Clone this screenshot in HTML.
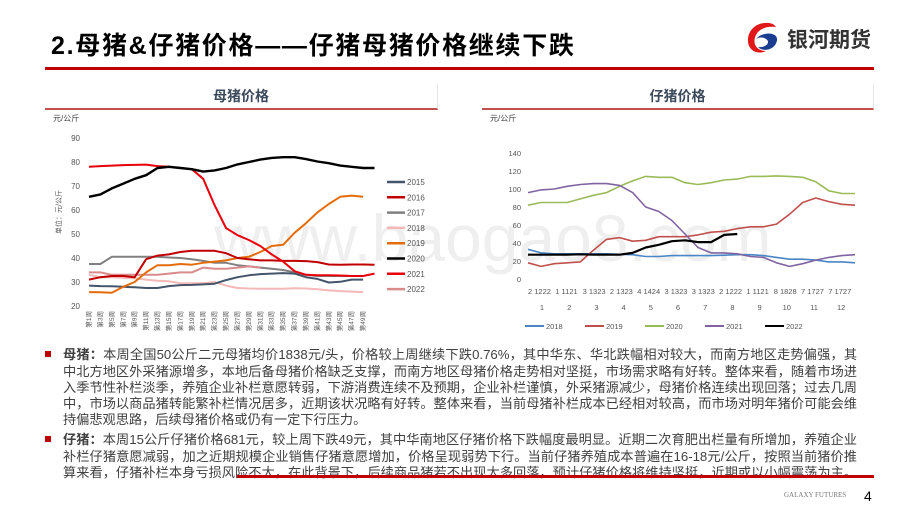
<!DOCTYPE html>
<html><head><meta charset="utf-8">
<style>
body{margin:0;width:920px;height:518px;background:#fff;position:relative;overflow:hidden;font-family:"Liberation Sans","Noto Sans CJK SC",sans-serif}
.abs{position:absolute}
.ln{position:absolute;left:63px;width:794px;white-space:nowrap;font-size:13.2px;color:#404040;text-align:justify;text-align-last:justify;line-height:16px}
</style></head><body>
<div class="abs" style="left:51px;top:26px;font-size:25px;font-weight:bold;color:#000;letter-spacing:1.7px;white-space:nowrap">2.母猪&amp;仔猪价格——仔猪母猪价格继续下跌</div>
<div class="abs" style="left:45px;top:67px;width:829px;height:3px;background:#c00000"></div>
<svg class="abs" style="left:746px;top:22px" width="36" height="32" viewBox="0 0 36 32">
<path d="M22 1 C10 0 1 9 2 20 C3 29 12 33 20 29 C10 29 6 21 10 13 C13 7 20 4 30 5 C28 2 25 1 22 1Z" fill="#e01818"/>
<path d="M10 17 C17 9 32 10 31 18 C30 27 18 31 12 25 C20 26 25 20 20 17 C17 15 13 15 10 17Z" fill="#1a3d8f"/>
</svg>
<div class="abs" style="left:787px;top:24px;font-size:21px;font-weight:bold;color:#333;white-space:nowrap">银河期货</div>

<div class="abs" style="left:214px;top:200px;font-size:66px;color:#000;opacity:0.06;white-space:nowrap">www.baogao8.com</div>

<!-- left chart -->
<div class="abs" style="left:45px;top:84px;width:392px;height:24px;border-right:1px solid #e6e6e6;border-bottom:2px solid #c0504d;text-align:center;font-size:14px;font-weight:bold;color:#3b4a5c;line-height:24px">母猪价格</div>
<svg class="abs" id="c1" style="left:0;top:0" width="460" height="345"></svg>

<!-- right chart -->
<div class="abs" style="left:482px;top:84px;width:391px;height:24px;border-right:1px solid #e6e6e6;border-bottom:2px solid #c0504d;text-align:center;font-size:14px;font-weight:bold;color:#3b4a5c;line-height:24px">仔猪价格</div>
<svg class="abs" id="c2" style="left:460px;top:0" width="460" height="345"></svg>

<!-- text -->
<div class="abs" style="left:45px;top:351px;width:6px;height:6px;background:#c00000"></div>
<div class="ln" style="top:347px"><b>母猪：</b>本周全国50公斤二元母猪均价1838元/头，价格较上周继续下跌0.76%，其中华东、华北跌幅相对较大，而南方地区走势偏强，其</div>
<div class="ln" style="top:364px">中北方地区外采猪源增多，本地后备母猪价格缺乏支撑，而南方地区母猪价格走势相对坚挺，市场需求略有好转。整体来看，随着市场进</div>
<div class="ln" style="top:380px">入季节性补栏淡季，养殖企业补栏意愿转弱，下游消费连续不及预期，企业补栏谨慎，外采猪源减少，母猪价格连续出现回落；过去几周</div>
<div class="ln" style="top:396px">中，市场以商品猪转能繁补栏情况居多，近期该状况略有好转。整体来看，当前母猪补栏成本已经相对较高，而市场对明年猪价可能会维</div>
<div class="ln" style="top:412px;text-align-last:left">持偏悲观思路，后续母猪价格或仍有一定下行压力。</div>
<div class="abs" style="left:45px;top:436px;width:6px;height:6px;background:#c00000"></div>
<div class="ln" style="top:432px"><b>仔猪：</b>本周15公斤仔猪价格681元，较上周下跌49元，其中华南地区仔猪价格下跌幅度最明显。近期二次育肥出栏量有所增加，养殖企业</div>
<div class="ln" style="top:449px">补栏仔猪意愿减弱，加之近期规模企业销售仔猪意愿增加，价格呈现弱势下行。当前仔猪养殖成本普遍在16-18元/公斤，按照当前猪价推</div>
<div class="ln" style="top:465px">算来看，仔猪补栏本身亏损风险不大，在此背景下，后续商品猪若不出现太多回落，预计仔猪价格将维持坚挺，近期或以小幅震荡为主。</div>
<div class="abs" style="left:237px;top:475px;width:637px;height:3px;background:#c00000"></div>
<div class="abs" style="left:784px;top:491px;font-family:'Liberation Serif',serif;font-size:7px;color:#777">GALAXY FUTURES</div>
<div class="abs" style="left:864px;top:488px;font-size:14px;color:#000">4</div>

<script>
const NS='http://www.w3.org/2000/svg';
function mk(svg,tag,attrs,txt){const e=document.createElementNS(NS,tag);for(const k in attrs)e.setAttribute(k,attrs[k]);if(txt!==undefined)e.textContent=txt;svg.appendChild(e);return e;}

// ---- Chart 1 data: sow price, weeks 1..51 step 2 ----
const sowWeeks=[1,3,5,7,9,11,13,15,17,19,21,23,25,27,29,31,33,35,37,39,41,43,45,47,49,51];
const sowYears=['2015','2016','2017','2018','2019','2020','2021','2022'];
const s2015=[28.5,28.3,28.2,28,27.8,27.5,27.5,28.3,28.7,28.8,29,29.3,30.8,32,32.8,33.3,33.5,33.7,33.5,32,31.3,29.8,30.1,31,31,null];
const s2016=[31,32,32.5,32.5,32,39.5,41,41.5,42.5,43,43,43,42,40,39.5,39,39,38.8,38.8,38.7,38.3,37.3,37.2,37.3,37.3,37.2];
const s2017=[37.5,37.5,40.5,40.5,40.5,40.5,40.5,40.2,40,39.5,38.8,38,38,37,36.5,36,35.5,35,34,33,32.5,32.5,32.5,32.5,32.5,null];
const s2018=[33,32,32,31.8,31.5,31,30.5,30.3,29.5,29.5,29.5,30,28.5,27.5,27.3,27.2,27.2,27.2,27.4,27.3,27,26.5,26.2,26,25.8,null];
const s2019=[25.8,25.7,25.5,28,30,34,37,37,37.5,37.2,38,38.5,39,40,40.5,42.5,45,45.5,50.5,54.5,59,62.5,65.5,66,65.5,null];
const s2020=[65.5,66.5,69,71,73,74.5,77.5,78,77.5,77,76,76.5,77.5,79,80,81,81.7,82,82,81.2,80.2,79.5,78.5,78,77.5,77.5];
const s2021=[78,78.3,78.5,78.7,78.8,78.9,78.3,78,77.5,77,73,62,52.5,49.5,47.5,45,41.5,38.5,34.5,33,32.8,32.8,32.7,32.5,32.5,33.5];
const s2022=[34,34,33,33,33,33,33,33.5,34,34,36,35.5,35.5,36,36.5,36,null,null,null,null,null,null,null,null,null,null];
const sowTicks=[20,30,40,50,60,70,80,90];
const sowXLabels=['第1周','第3周','第5周','第7周','第9周','第11周','第13周','第15周','第17周','第19周','第21周','第23周','第25周','第27周','第29周','第31周','第33周','第35周','第37周','第39周','第41周','第43周','第45周','第47周','第49周'];

// ---- Chart 2 data: piglet price, 26 points across the year ----
const pigYears=['2018','2019','2020','2021','2022'];
const p2018=[33,29,28,28,28,28,28,27.5,27,25,25,26,26,26,26,26.5,27,27,26,24,22,22,21,19,19,18];
const p2019=[18,14,17,18,19,32,44,46,42,43,47,47,47,49,52,53,56,58,58,61,72,85,90,86,83,82];
const p2020=[82,85,85,85,89,93,96,103,109,114,113,113,107,105,107,110,111,114,114,114.5,114,113,108,98,95,95];
const p2021=[96,99,100,103,105,106,106,104,96,80,75,65,50,35,29,29,28,25,24,18,14,17,21,24,26,27];
const p2022=[27,27,27,27,27.5,27,27,27,29,35,38,42,43,41,41,49,50];
const pigTicks=[0,20,40,60,80,100,120,140];
const pigDayLabels=['2 1222','1 1121','3 1323','2 1323','4 1424','3 1323','3 1323','2 1222','1 1121','8 1828','7 1727','7 1727'];
const pigMonths=['1','2','3','4','5','6','7','8','9','10','11','12'];

// ---- draw chart 1 ----
(function(){
const svg=document.getElementById('c1');
const y=v=>138+(90-v)*2.4;
const x=w=>89+(w-1)*5.71;
mk(svg,'text',{x:53,y:121,'font-size':8,fill:'#444',},'元/公斤');
const yt=mk(svg,'text',{x:0,y:0,'font-size':7,fill:'#555','text-anchor':'middle',transform:'translate(61,212) rotate(-90)'},'单位：元/公斤');


sowTicks.forEach(t=>{
 const e=mk(svg,'text',{x:80,y:y(t)+3,'font-size':8,fill:'#555','text-anchor':'end'},String(t));
 
 
});
sowXLabels.forEach((l,i)=>{
 const w=1+i*2;
 const e=mk(svg,'text',{x:0,y:0,'font-size':6.5,fill:'#555','text-anchor':'end',transform:`translate(${x(w)+2},311) rotate(-90)`},l);
 
 
});
const series=[s2015,s2016,s2017,s2018,s2019,s2020,s2021,s2022];
const colors=['#44546a','#c00000','#808080','#f4b8b8','#e46c0a','#000000','#e8000b','#d98b8b'];
const order=[3,2,0,7,4,1,6,5];
order.forEach(k=>{
 let d='';let pen=false;
 series[k].forEach((v,i)=>{ if(v===null){pen=false;return;} d+=(pen?'L':'M')+x(sowWeeks[i]).toFixed(1)+' '+y(v).toFixed(1)+' ';pen=true;});
 const p=mk(svg,'path',{d:d,fill:'none',stroke:colors[k],'stroke-width':k===5?2.4:2,'stroke-linejoin':'round'});
 
 
});
sowYears.forEach((yr,k)=>{
 const ly=182+k*15.3;
 const l=mk(svg,'line',{x1:387,x2:405,y1:ly,y2:ly,stroke:colors[k],'stroke-width':2.5});
 
 
 const t=mk(svg,'text',{x:407,y:ly+3,'font-size':8,fill:'#555'},yr);
 
 
});
})();

// ---- draw chart 2 ----
(function(){
const svg=document.getElementById('c2');
const ox=460;
const y=v=>279-v*0.9;
const x=i=>528-ox+i*13.08;
mk(svg,'text',{x:490-ox,y:121,'font-size':8,fill:'#444',},'元/公斤');
pigTicks.forEach(t=>{
 const e=mk(svg,'text',{x:521-ox,y:y(t)+3,'font-size':7.5,fill:'#555','text-anchor':'end'},String(t));
 
 
});
pigDayLabels.forEach((l,i)=>{
 const e=mk(svg,'text',{x:528-ox+i*27.3,y:294,'font-size':7.5,fill:'#555'},l);
 
 
});
pigMonths.forEach((m,i)=>{
 const e=mk(svg,'text',{x:542-ox+i*27.2,y:310,'font-size':7.5,fill:'#555','text-anchor':'middle'},m);
 
 
});
const series=[p2018,p2019,p2020,p2021,p2022];
const colors=['#4a86c5','#c0504d','#9bbb59','#8064a2','#000000'];
series.forEach((s,k)=>{
 const d=s.map((v,i)=>(i?'L':'M')+x(i).toFixed(1)+' '+y(v).toFixed(1)).join(' ');
 const p=mk(svg,'path',{d:d,fill:'none',stroke:colors[k],'stroke-width':k===4?2.2:1.6,'stroke-linejoin':'round'});
 
 
});
pigYears.forEach((yr,k)=>{
 const lx=525-ox+k*60;
 const l=mk(svg,'line',{x1:lx,x2:lx+19,y1:326,y2:326,stroke:colors[k],'stroke-width':2});
 
 
 const t=mk(svg,'text',{x:lx+21,y:329,'font-size':7.5,fill:'#555'},yr);
 
 
});
})();
</script>
</body></html>
